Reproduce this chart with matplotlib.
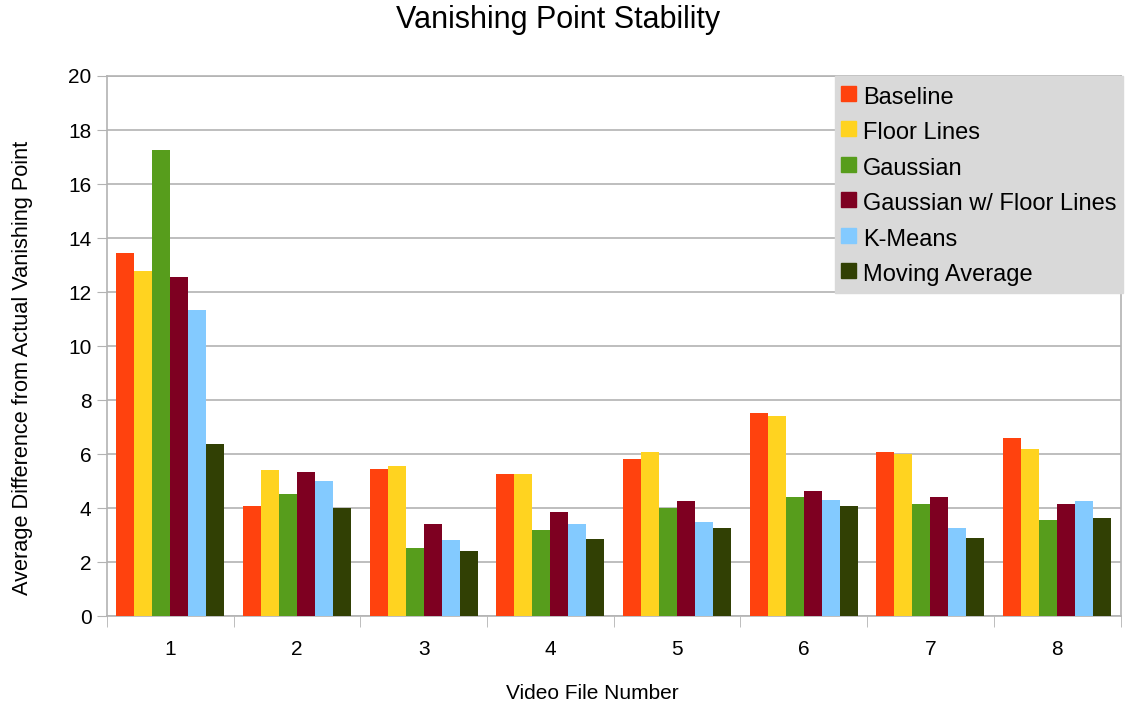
import matplotlib
matplotlib.use("Agg")
import matplotlib.pyplot as plt
from matplotlib.lines import Line2D
import numpy as np

plt.rcParams['font.family'] = ['Liberation Sans', 'DejaVu Sans']

videos = ['1', '2', '3', '4', '5', '6', '7', '8']
series_names = ['Baseline', 'Floor Lines', 'Gaussian', 'Gaussian w/ Floor Lines',
                'K-Means', 'Moving Average']
baseline = [13.43, 4.07, 5.47, 5.28, 5.81, 7.54, 6.07, 6.60]
floor_lines = [12.78, 5.41, 5.57, 5.28, 6.07, 7.41, 5.99, 6.21]
gaussian = [17.26, 4.54, 2.54, 3.21, 4.01, 4.42, 4.16, 3.58]
gaussian_floor = [12.57, 5.35, 3.42, 3.86, 4.25, 4.62, 4.42, 4.16]
kmeans = [11.33, 5.00, 2.81, 3.43, 3.48, 4.30, 3.25, 4.27]
moving_avg = [6.36, 4.02, 2.42, 2.85, 3.27, 4.07, 2.91, 3.65]
colors = ['#ff420e', '#ffd320', '#579d1c', '#7e0021', '#83caff', '#314004']

all_series = [baseline, floor_lines, gaussian, gaussian_floor, kmeans, moving_avg]

fig = plt.figure(figsize=(11.25, 7.1), dpi=100)
ax = fig.add_axes([0.095, 0.132, 0.901, 0.761])

x = np.arange(len(videos))
bw = 0.142
for i, (vals, name, c) in enumerate(zip(all_series, series_names, colors)):
    ax.bar(x + (i - 2.5) * bw, vals, bw, color=c, label=name, zorder=3)

ax.set_xlim(-0.5, len(videos) - 0.5)
ax.set_ylim(0, 20)
ax.set_yticks(range(0, 21, 2))
ax.set_xticks(x)
ax.set_xticklabels(videos)
ax.set_xticks(np.arange(-0.5, len(videos)), minor=True)
ax.tick_params(axis='x', which='major', length=0, pad=17, labelsize=15)
ax.tick_params(axis='x', which='minor', length=8, color='#b3b3b3')
ax.tick_params(axis='y', length=7, color='#b3b3b3', labelsize=15, pad=4)
ax.grid(axis='y', color='#b3b3b3', linewidth=1.2, zorder=0)
for s in ax.spines.values():
    s.set_color('#b3b3b3')
    s.set_linewidth(1.2)

fig.text(0.496, 1 - 20 / 710, 'Vanishing Point Stability', fontsize=22,
         ha='center', va='center')
ax.set_xlabel('Video File Number', fontsize=15)
ax.xaxis.set_label_coords(0.479, -0.126)
ax.set_ylabel('Average Difference from Actual Vanishing Point', fontsize=15.7)
ax.yaxis.set_label_coords(-0.073, 0.46)

# square swatches in the legend
handles = [Line2D([], [], marker='s', linestyle='none', markersize=10.8,
                  markerfacecolor=c, markeredgecolor=c) for c in colors]
leg = ax.legend(handles, series_names, loc='upper right',
                bbox_to_anchor=(1.002, 1.0), fontsize=17,
                frameon=True, fancybox=False, facecolor='#d9d9d9', edgecolor='#d9d9d9',
                framealpha=1, handlelength=0.65, handleheight=1.47, handletextpad=0.3,
                labelspacing=0.3, borderpad=0.25, borderaxespad=0.0)
leg.get_frame().set_boxstyle('square', pad=0)
leg.set_zorder(5)

fig.savefig('out.png', dpi=100)
